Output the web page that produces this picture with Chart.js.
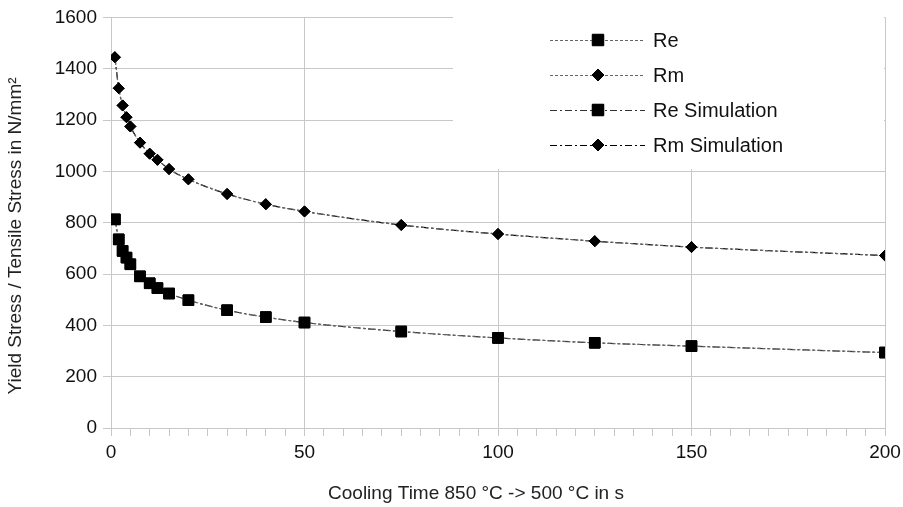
<!DOCTYPE html>
<html>
<head>
<meta charset="utf-8">
<script src="https://cdn.jsdelivr.net/npm/chart.js@4/dist/chart.umd.min.js"></script>
<style>
  html, body { margin: 0; padding: 0; background: #fff; }
  #chart { display: block; }
</style>
</head>
<body>
<canvas id="chart" width="903" height="507"></canvas>
<script>
// cooling time t8/5 in s
const coolingTime = [1, 2, 3, 4, 5, 7.5, 10, 12, 15, 20, 30, 40, 50, 75, 100, 125, 150, 200];
const reValues = [813, 735, 690, 664, 638, 591, 564, 545, 524, 498, 459, 432, 411, 376, 351, 332, 319, 294];
const rmValues = [1445, 1324, 1257, 1211, 1175, 1112, 1069, 1045, 1009, 969, 912, 872, 844, 791, 756, 728, 705, 672];
const reSimValues = [813, 735, 690, 664, 638, 591, 564, 545, 524, 498, 459, 432, 411, 376, 351, 332, 319, 294];
const rmSimValues = [1445, 1324, 1257, 1211, 1175, 1112, 1069, 1045, 1009, 969, 912, 872, 844, 791, 756, 728, 705, 672];
const seriesNames = ['Re', 'Rm', 'Re Simulation', 'Rm Simulation'];
const xTitle = 'Cooling Time 850 °C -> 500 °C in s';
const yTitle = 'Yield Stress / Tensile Stress in N/mm²';

const FONT = "'Liberation Sans', Arial, sans-serif";
const GRID = '#c8c8c8';

function puntos(ys) {
    return coolingTime.map((x, i) => ({ x: x, y: ys[i] }));
}

function serie(label, ys, style, radius, dash, color) {
    return {
        label: label,
        data: puntos(ys),
        borderColor: color,
        borderWidth: 1.2,
        borderDash: dash,
        backgroundColor: '#000',
        pointStyle: style,
        pointRadius: radius,
        pointHoverRadius: radius,
        pointBorderColor: '#000',
        pointBackgroundColor: '#000',
        pointBorderWidth: 1,
        tension: 0.4,
        cubicInterpolationMode: 'monotone',
        fill: false
    };
}

// legend inside the plot on a white box, plus the two axis titles
const legendBox = {
    id: 'legendBox',
    afterDatasetsDraw(chart) {
        const ctx = chart.ctx;
        const a = chart.chartArea;
        ctx.save();
        ctx.fillStyle = '#fff';
        ctx.fillRect(453, a.top - 1, a.right - 454, 170 - a.top);
        const rows = [40, 75, 110, 145];
        chart.data.datasets.forEach((ds, i) => {
            const y = rows[i];
            ctx.strokeStyle = ds.borderColor;
            ctx.lineWidth = 1;
            ctx.setLineDash(ds.borderDash);
            ctx.beginPath();
            ctx.moveTo(550, y + 0.5);
            ctx.lineTo(645, y + 0.5);
            ctx.stroke();
            ctx.setLineDash([]);
            Chart.helpers.drawPoint(ctx, {
                pointStyle: ds.pointStyle, radius: ds.pointRadius + 0.5, borderWidth: 1, rotation: 0
            }, 598, y);
            ctx.fillStyle = '#000';
            ctx.strokeStyle = '#000';
            ctx.fill();
            ctx.stroke();
            ctx.fillStyle = '#111';
            ctx.font = '20px ' + FONT;
            ctx.textBaseline = 'middle';
            ctx.textAlign = 'left';
            ctx.fillText(ds.label, 653, y + 1);
        });

        ctx.fillStyle = '#222';
        ctx.font = '19px ' + FONT;
        ctx.textAlign = 'center';
        ctx.textBaseline = 'middle';
        ctx.fillText(xTitle, 476, 494);
        ctx.translate(16, 236);
        ctx.rotate(-Math.PI / 2);
        ctx.fillText(yTitle, 0, 0);
        ctx.restore();
    }
};

new Chart(document.getElementById('chart'), {
    type: 'line',
    data: {
        datasets: [
            serie(seriesNames[0], reValues, 'rect', 7.5, [3, 2], '#666'),
            serie(seriesNames[1], rmValues, 'rectRot', 5.5, [3, 2], '#666'),
            serie(seriesNames[2], reSimValues, 'rect', 7.5, [7, 3, 2, 3], '#333'),
            serie(seriesNames[3], rmSimValues, 'rectRot', 5.5, [7, 3, 2, 3], '#000')
        ]
    },
    options: {
        responsive: false,
        animation: false,
        events: [],
        layout: { padding: { top: 17, right: 18, bottom: 0, left: 0 } },
        plugins: { legend: { display: false }, tooltip: { enabled: false } },
        scales: {
            x: {
                type: 'linear',
                min: 0,
                max: 200,
                afterFit: s => { s.height = 79; s.paddingLeft = 0; s.paddingRight = 0; },
                border: { color: GRID },
                grid: {
                    color: c => (c.tick && c.tick.value % 50 === 0) ? GRID : 'rgba(0,0,0,0)',
                    tickColor: GRID,
                    tickLength: 8
                },
                ticks: {
                    stepSize: 5,
                    autoSkip: false,
                    maxRotation: 0,
                    padding: 5,
                    color: '#111',
                    font: { family: FONT, size: 19 },
                    callback: v => (v % 50 === 0 ? String(v) : '')
                }
            },
            y: {
                min: 0,
                max: 1600,
                afterFit: s => { s.width = 111; },
                border: { color: GRID },
                grid: { color: GRID, tickColor: GRID, tickLength: 8 },
                ticks: {
                    stepSize: 200,
                    padding: 6,
                    color: '#111',
                    font: { family: FONT, size: 19 },
                    callback: v => String(v)
                }
            }
        }
    },
    plugins: [legendBox]
});
</script>
</body>
</html>
